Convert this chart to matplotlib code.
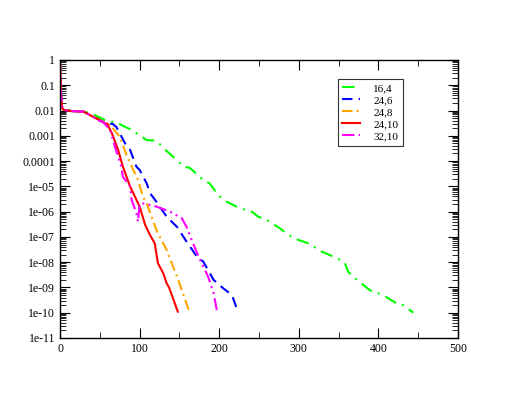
import matplotlib
matplotlib.use("Agg")
import matplotlib.pyplot as plt
import numpy as np
from matplotlib.ticker import LogLocator, MultipleLocator

plt.rcParams['font.family'] = ['Liberation Serif', 'DejaVu Serif']

head_x = [0, 0.5, 1, 2, 3, 5, 15, 30]
head_y = [1, 0.3, 0.06, 0.02, 0.012, 0.0105, 0.0095, 0.009]

g_x = head_x + [40, 56, 71, 90, 109, 121, 134, 147, 155, 163, 180, 188, 197, 205, 226, 241, 249, 260, 276, 293, 312, 329, 348, 358, 362, 373, 389, 406, 423, 431, 444]
g_y = head_y + [0.0075, 0.0043, 0.0033, 0.0017, 6.8e-4, 6.4e-4, 2.5e-4, 1.1e-4, 6e-5, 5.4e-5, 1.8e-5, 1.3e-5, 5.4e-6, 2.9e-6, 1.35e-6, 1.0e-6, 6.3e-7, 4.7e-7, 2.2e-7, 8.9e-8, 5.6e-8, 2.6e-8, 1.45e-8, 9.1e-9, 4.2e-9, 2.0e-9, 7.9e-10, 5.0e-10, 2.3e-10, 2.0e-10, 1.0e-10]

b_x = head_x + [40, 50, 59, 66, 71, 84, 88, 96, 100, 109, 113, 121, 134, 147, 159, 172, 180, 193, 205, 216, 224]
b_y = head_y + [0.006, 0.0042, 0.003, 0.003, 0.0022, 3.7e-4, 2.8e-4, 6e-5, 4.5e-5, 1.3e-5, 5.4e-6, 2.5e-6, 6.3e-7, 2.5e-7, 6.5e-8, 1.66e-8, 1.05e-8, 2.0e-9, 9.3e-10, 5.0e-10, 1.0e-10]

o_x = head_x + [40, 50, 58, 63, 75, 84, 94, 98, 104, 109, 121, 134, 147, 163]
o_y = head_y + [0.006, 0.0042, 0.003, 0.0027, 9.3e-4, 1.6e-4, 3.3e-5, 1.8e-5, 4e-6, 2.1e-6, 1.9e-7, 3.0e-8, 2.7e-9, 1.0e-10]

r_x = head_x + [40, 50, 57, 59, 65, 73, 79, 88, 94, 100, 107, 113, 119, 123, 130, 134, 137, 148]
r_y = head_y + [0.006, 0.0042, 0.003, 0.0031, 0.0013, 2.8e-4, 6e-5, 1.0e-5, 4e-6, 1.6e-6, 3.0e-7, 1.2e-7, 5.6e-8, 9.1e-9, 3.5e-9, 1.45e-9, 1.0e-9, 1.1e-10]

m_x = head_x + [40, 50, 54, 63, 69, 77, 79, 88, 90, 96, 98, 100, 105, 121, 138, 153, 159, 167, 176, 186, 193, 197]
m_y = head_y + [0.006, 0.0038, 0.0036, 0.0017, 3.7e-4, 6e-5, 2.4e-5, 1.0e-5, 2.9e-6, 8.7e-7, 4.0e-7, 2.0e-6, 2.1e-6, 1.6e-6, 1.0e-6, 5.5e-7, 2.5e-7, 5.6e-8, 1.23e-8, 2.7e-9, 5.9e-10, 1.26e-10]

labels = ['16,4', '24,6', '24,8', '24,10', '32,10']
colors = ['#00ff00', '#0000ff', '#ffa500', '#ff0000', '#ff00ff']
styles = [(0, (6, 3, 1, 3)), (0, (5, 3)), (0, (5, 2, 1, 2)), '-', (0, (6, 2, 1, 2, 1, 2))]

fig = plt.figure(figsize=(5.15, 3.98), dpi=100)
ax = fig.add_axes([60/515, 60/398, 398/515, 278/398])

for xs, ys, lab, c, ls in zip([g_x, b_x, o_x, r_x, m_x], [g_y, b_y, o_y, r_y, m_y], labels, colors, styles):
    ax.plot(xs, ys, color=c, linestyle=ls, linewidth=1.5, label=lab)

ax.set_yscale('log')
ax.set_xlim(0, 500)
ax.set_ylim(1e-11, 1)
ax.xaxis.set_major_locator(MultipleLocator(100))
ax.xaxis.set_minor_locator(MultipleLocator(50))
ax.yaxis.set_minor_locator(LogLocator(base=10, subs=np.arange(2, 10), numticks=20))
ytick_vals = [10.0**(-k) for k in range(0, 12)]
ytick_labels = ['1', '0.1', '0.01', '0.001', '0.0001'] + ['1e-%02d' % k for k in range(5, 12)]
ax.set_yticks(ytick_vals)
ax.set_yticklabels(ytick_labels)
ax.tick_params(which='both', direction='in', top=True, right=True, labelsize=8.5)
ax.tick_params(which='major', length=7, width=0.8)
ax.tick_params(which='minor', length=4, width=0.6)
for s in ax.spines.values():
    s.set_linewidth(1.0)

leg = ax.legend(loc='upper left', bbox_to_anchor=(0.698, 0.932), fontsize=8, frameon=True,
                fancybox=False, edgecolor='black', handlelength=1.6, borderpad=0.4,
                labelspacing=0.2, handletextpad=1.2, borderaxespad=0)
leg.get_frame().set_linewidth(0.8)

fig.savefig('out.png', dpi=100)
